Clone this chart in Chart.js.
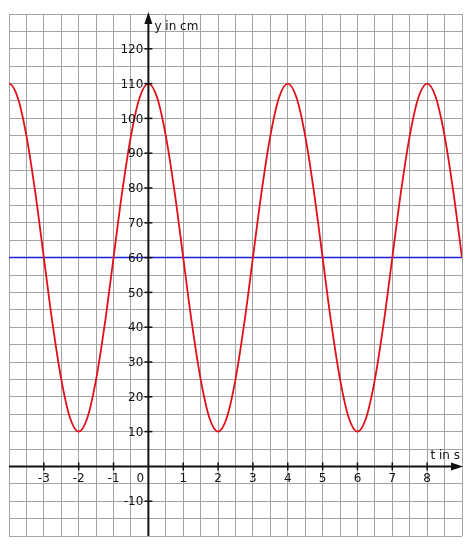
<!DOCTYPE html>
<html>
<head>
<meta charset="utf-8">
<script src="https://cdn.jsdelivr.net/npm/chart.js@4/dist/chart.umd.min.js"></script>
<style>
  body { margin: 0; background: #fff; }
</style>
</head>
<body>
<canvas id="waveChart" width="470" height="550"></canvas>
<script>
// time values (s), one every quarter second (one step past each edge so the curve runs smoothly off the grid)
var tValues = [-4.25, -4, -3.75, -3.5, -3.25, -3, -2.75, -2.5, -2.25, -2, -1.75, -1.5, -1.25, -1, -0.75, -0.5, -0.25,
    0, 0.25, 0.5, 0.75, 1, 1.25, 1.5, 1.75, 2, 2.25, 2.5, 2.75, 3, 3.25, 3.5, 3.75,
    4, 4.25, 4.5, 4.75, 5, 5.25, 5.5, 5.75, 6, 6.25, 6.5, 6.75, 7, 7.25, 7.5, 7.75,
    8, 8.25, 8.5, 8.75, 9, 9.25];
// height (cm)
var yValues = [106, 110, 106, 95, 79, 60, 41, 25, 14, 10, 14, 25, 41, 60, 79, 95, 106,
    110, 106, 95, 79, 60, 41, 25, 14, 10, 14, 25, 41, 60, 79, 95, 106,
    110, 106, 95, 79, 60, 41, 25, 14, 10, 14, 25, 41, 60, 79, 95, 106,
    110, 106, 95, 79, 60, 41];
// middle line
var midLevel = 60;
// tick labels
var xTickLabels = [-3, -2, -1, 0, 1, 2, 3, 4, 5, 6, 7, 8];
var yTickLabels = [-10, 10, 20, 30, 40, 50, 60, 70, 80, 90, 100, 110, 120];

var curvePoints = tValues.map(function (t, i) { return { x: t, y: yValues[i] }; });

// axes with arrows, ticks and labels
var axesPlugin = {
    id: 'axes',
    afterDatasetsDraw: function (chart) {
        var ctx = chart.ctx;
        var xs = chart.scales.x, ys = chart.scales.y;
        var area = chart.chartArea;
        var x0 = xs.getPixelForValue(0), y0 = ys.getPixelForValue(0);
        ctx.save();
        ctx.strokeStyle = '#111';
        ctx.fillStyle = '#111';
        ctx.lineWidth = 2;
        // x axis
        ctx.beginPath();
        ctx.moveTo(area.left, y0);
        ctx.lineTo(area.right - 6, y0);
        ctx.stroke();
        ctx.beginPath();
        ctx.moveTo(area.right + 1, y0);
        ctx.lineTo(area.right - 11, y0 - 4);
        ctx.lineTo(area.right - 11, y0 + 4);
        ctx.closePath();
        ctx.fill();
        // y axis
        ctx.beginPath();
        ctx.moveTo(x0, area.bottom);
        ctx.lineTo(x0, area.top + 4);
        ctx.stroke();
        ctx.beginPath();
        ctx.moveTo(x0, area.top - 2);
        ctx.lineTo(x0 - 4, area.top + 10);
        ctx.lineTo(x0 + 4, area.top + 10);
        ctx.closePath();
        ctx.fill();

        ctx.lineWidth = 1.5;
        ctx.font = '12px "DejaVu Sans", Verdana, sans-serif';
        // x ticks
        ctx.textAlign = 'center';
        ctx.textBaseline = 'middle';
        xTickLabels.forEach(function (v) {
            var px = xs.getPixelForValue(v);
            if (v !== 0) {
                ctx.beginPath();
                ctx.moveTo(px, y0 - 4);
                ctx.lineTo(px, y0 + 4);
                ctx.stroke();
                ctx.fillText(String(v), px, y0 + 12);
            } else {
                ctx.fillText('0', px - 8, y0 + 12);
            }
        });
        // y ticks
        ctx.textAlign = 'right';
        yTickLabels.forEach(function (v) {
            var py = ys.getPixelForValue(v);
            ctx.beginPath();
            ctx.moveTo(x0 - 4, py);
            ctx.lineTo(x0 + 4, py);
            ctx.stroke();
            ctx.fillText(String(v), x0 - 5, py + 1);
        });
        // axis titles
        ctx.textAlign = 'left';
        ctx.fillText('y in cm', x0 + 6, area.top + 13);
        ctx.textAlign = 'right';
        ctx.fillText('t in s', area.right - 2, y0 - 11);
        ctx.restore();
    }
};

var waveCtx = document.getElementById('waveChart').getContext('2d');
var waveChart = new Chart(waveCtx, {
    type: 'scatter',
    data: {
        datasets: [{
            data: [{ x: -4, y: midLevel }, { x: 9, y: midLevel }],
            showLine: true,
            borderColor: 'rgb(30, 30, 210)',
            borderWidth: 1.5,
            pointRadius: 0,
            order: 2
        }, {
            data: curvePoints,
            showLine: true,
            borderColor: 'rgb(225, 15, 25)',
            borderWidth: 1.8,
            pointRadius: 0,
            cubicInterpolationMode: 'monotone',
            order: 1
        }]
    },
    options: {
        responsive: false,
        animation: false,
        layout: { padding: { left: 9, top: 14, right: 8, bottom: 14 } },
        plugins: { legend: { display: false }, tooltip: { enabled: false } },
        scales: {
            x: {
                type: 'linear', min: -4, max: 9,
                ticks: { display: false, stepSize: 0.5 },
                grid: { color: '#a4a4a4', lineWidth: 1, drawTicks: false },
                border: { display: false }
            },
            y: {
                type: 'linear', min: -20, max: 130,
                ticks: { display: false, stepSize: 5 },
                grid: { color: '#a4a4a4', lineWidth: 1, drawTicks: false },
                border: { display: false }
            }
        }
    },
    plugins: [axesPlugin]
});
</script>
</body>
</html>
